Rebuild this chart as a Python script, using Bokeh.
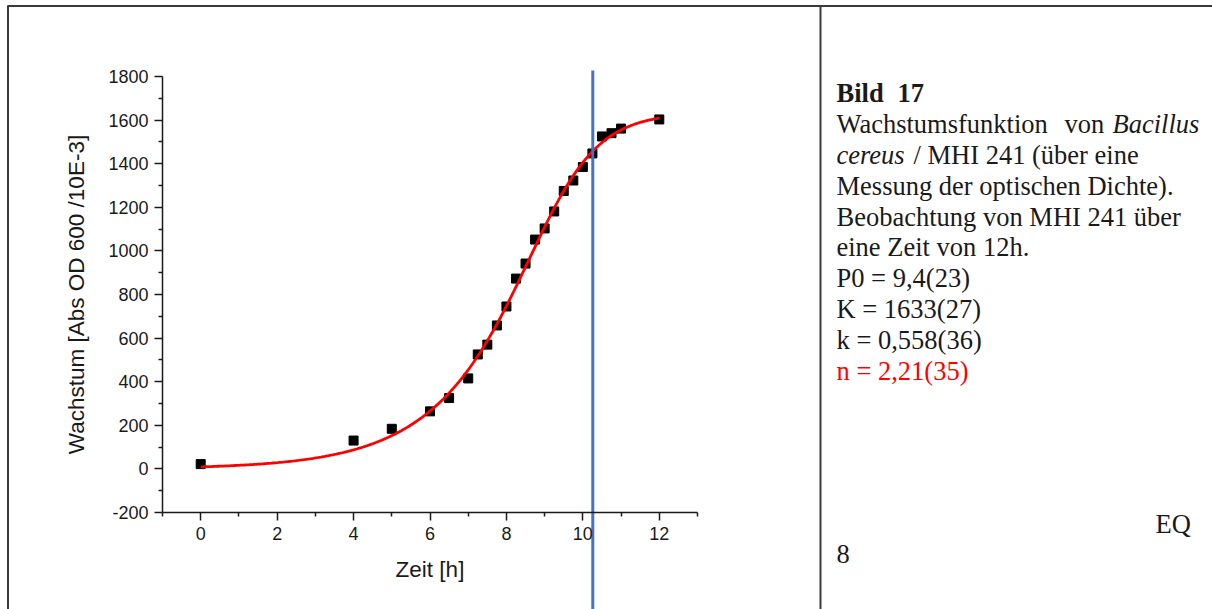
import numpy as np
from bokeh.plotting import figure
from bokeh.models import Range1d, FixedTicker, Label, Arrow, LinearAxis
from bokeh.embed import file_html
from bokeh.resources import INLINE

# Measured optical density (growth) of Bacillus cereus / MHI 241 over 12 h
time_h = [0, 4, 5, 6, 6.5, 7, 7.25, 7.5, 7.75, 8, 8.25, 8.5, 8.75, 9,
          9.25, 9.5, 9.75, 10, 10.25, 10.5, 10.75, 11, 12]
growth = [22, 130, 184, 264, 325, 415, 525, 570, 658, 745, 873, 942, 1052, 1103,
          1181, 1275, 1323, 1385, 1447, 1525, 1540, 1561, 1603]

# Fitted Richards growth parameters
P0 = 9.4
K = 1633
k_rate = 0.558
n_shape = 2.21
P0_err, K_err, k_err, n_err = "23", "27", "36", "35"

# Vertical marker on the time axis
marker_time = 10.26

# Axis extents and ticks
X0, X1 = -1, 13
Y0, Y1 = -200, 1800
x_ticks = [0, 2, 4, 6, 8, 10, 12]
x_minor = [-1, 1, 3, 5, 7, 9, 11, 13]
y_ticks = [-200, 0, 200, 400, 600, 800, 1000, 1200, 1400, 1600, 1800]
y_minor = [-100, 100, 300, 500, 700, 900, 1100, 1300, 1500, 1700]


def richards(t):
    return K / (1 + ((K / P0) ** n_shape - 1) * np.exp(-k_rate * n_shape * t)) ** (1 / n_shape)


def de(v):
    return str(v).replace(".", ",")


# Page geometry (pixels): the plot area sits inside the left table cell
W, H = 1212, 609
AX_L, AX_R, AX_T, AX_B = 162, 697, 76, 512

# The frame covers the whole page; the ranges are extended so that the
# axis extents land on the plot area above.
ppx = (AX_R - AX_L) / (X1 - X0)
ppy = (AX_B - AX_T) / (Y1 - Y0)
x_range = Range1d(X0 - AX_L / ppx, X1 + (W - AX_R) / ppx)
y_range = Range1d(Y0 - (H - AX_B) / ppy, Y1 + AX_T / ppy)

p = figure(width=W, height=H, output_backend="svg", toolbar_location=None,
           x_range=x_range, y_range=y_range,
           x_axis_type=None, y_axis_type=None,
           min_border=0)
p.outline_line_color = None
p.background_fill_color = "white"
p.border_fill_color = "white"
p.grid.visible = False

SANS = "Liberation Sans"
SERIF = "Liberation Serif"
INK = "#1a1a1a"

xaxis = LinearAxis(fixed_location=Y0, bounds=(X0, X1),
                   ticker=FixedTicker(ticks=x_ticks, minor_ticks=x_minor),
                   axis_label="Zeit [h]")
yaxis = LinearAxis(fixed_location=X0, bounds=(Y0, Y1),
                   ticker=FixedTicker(ticks=y_ticks, minor_ticks=y_minor),
                   axis_label="Wachstum [Abs OD 600 /10E-3]")
yaxis.major_label_overrides = {-200: "-200"}

for ax in (xaxis, yaxis):
    ax.axis_line_width = 1.5
    ax.axis_line_color = INK
    ax.major_tick_line_width = 1.5
    ax.minor_tick_line_width = 1.5
    ax.major_tick_line_color = INK
    ax.minor_tick_line_color = INK
    ax.major_tick_in = 0
    ax.major_tick_out = 8
    ax.minor_tick_in = 0
    ax.minor_tick_out = 4
    ax.major_label_text_font = SANS
    ax.major_label_text_font_size = "18px"
    ax.major_label_text_color = INK
    ax.axis_label_text_font = SANS
    ax.axis_label_text_font_size = "22.5px"
    ax.axis_label_text_font_style = "normal"
    ax.axis_label_text_color = INK
    ax.major_label_standoff = 6
xaxis.axis_label_standoff = 14
yaxis.axis_label_standoff = 16
p.add_layout(xaxis, "below")
p.add_layout(yaxis, "left")

# data points and fitted curve
p.scatter(time_h, growth, marker="square", size=9, fill_color="black", line_color="black")
t_fit = np.linspace(0, 12, 241)
p.line(t_fit, richards(t_fit), line_color="#ff0000", line_width=2.8)

# vertical marker line, running from just above the plot to the page bottom
marker_top = Y1 + 6 / ppy
p.segment(x0=[marker_time], y0=[y_range.start], x1=[marker_time], y1=[marker_top],
          line_color="#4472C4", line_width=3)


def sy(Y):
    return H - Y


# table rules of the page
BORDER = "#3a3a3a"
for (x0, y0, x1, y1) in [(7, 5.5, W, 5.5), (7.5, 5, 7.5, H), (820, 5, 820, H)]:
    p.add_layout(Arrow(end=None, start_units="screen", end_units="screen",
                       x_start=x0, y_start=sy(y0), x_end=x1, y_end=sy(y1),
                       line_color=BORDER, line_width=2))


def txt(X, Y, s, style="normal", color=INK, size="26.5px"):
    p.add_layout(Label(x=X, y=sy(Y), x_units="screen", y_units="screen",
                       text=s, text_font=SERIF, text_font_size=size,
                       text_font_style=style, text_color=color,
                       text_baseline="alphabetic", text_align="left"))


TX = 836
base = [92, 123, 154, 185, 216, 246, 277, 308, 339, 370]
txt(TX, base[0], "Bild", style="bold")
txt(897, base[0], "17", style="bold")
txt(TX, base[1], "Wachstumsfunktion")
txt(1064, base[1], "von")
txt(1112, base[1], "Bacillus", style="italic")
txt(TX, base[2], "cereus", style="italic")
txt(913, base[2], "/ MHI 241 (über eine")
txt(TX, base[3], "Messung der optischen Dichte).")
txt(TX, base[4], "Beobachtung von MHI 241 über")
txt(TX, base[5], "eine Zeit von 12h.")
txt(TX, base[6], f"P0 = {de(P0)}({P0_err})")
txt(TX, base[7], f"K = {de(K)}({K_err})")
txt(TX, base[8], f"k = {de(k_rate)}({k_err})")
txt(TX, base[9], f"n = {de(n_shape)}({n_err})", color="#ff0000")
txt(1155, 523, "EQ")
txt(TX, 553, "8")

open("out.html", "w").write(file_html(p, INLINE))
